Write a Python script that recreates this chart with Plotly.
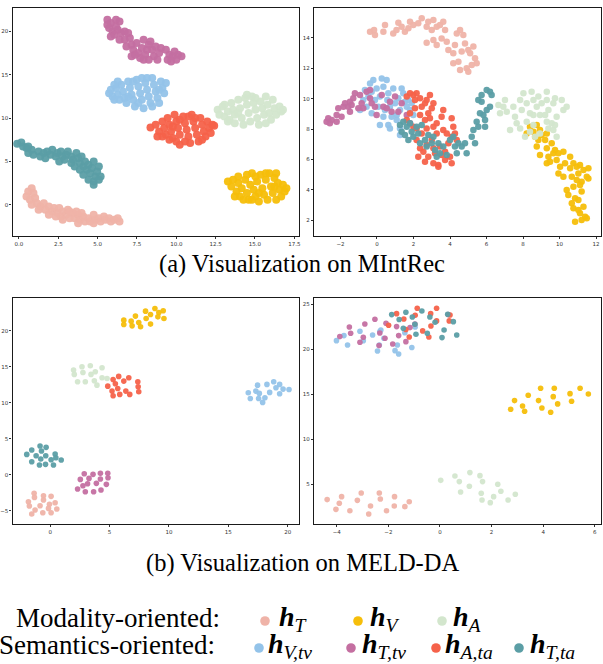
import plotly.graph_objects as go

# ---------------- series meta ----------------
series_keys = ["T", "V", "A", "Vtv", "Ttv", "Ata", "Tta"]
series_colors = {
    "T": "#EFB3A8", "V": "#F6BE0A", "A": "#D3E6CD", "Vtv": "#93C3E9",
    "Ttv": "#C46FA1", "Ata": "#F5624A", "Tta": "#5B9EA5",
}
series_labels = {
    "T": "<b><i>h</i></b><sub><i>T</i></sub>",
    "V": "<b><i>h</i></b><sub><i>V</i></sub>",
    "A": "<b><i>h</i></b><sub><i>A</i></sub>",
    "Vtv": "<b><i>h</i></b><sub><i>V,tv</i></sub>",
    "Ttv": "<b><i>h</i></b><sub><i>T,tv</i></sub>",
    "Ata": "<b><i>h</i></b><sub><i>A,ta</i></sub>",
    "Tta": "<b><i>h</i></b><sub><i>T,ta</i></sub>",
}

# ---------------- (a) MIntRec, left panel ----------------
mintrec_left_T = [(0.59,1.54),(0.81,1.92),(0.92,1.35),(0.48,0.96),(0.70,0.58),(1.03,0.77),(1.14,0.19),(0.81,0.00),(1.36,-0.19),(1.58,0.19),(1.68,-0.58),(1.90,-0.19),(2.12,-0.77),(2.23,-0.38),(2.45,-0.96),(2.56,-0.38),(2.67,-1.35),(2.78,-0.77),(3.00,-1.15),(3.11,-0.58),(3.22,-1.54),(3.44,-0.96),(3.54,-1.54),(3.76,-1.15),(3.87,-1.73),(4.09,-1.35),(4.20,-1.92),(4.42,-1.54),(4.53,-1.92),(4.75,-1.15),(4.86,-1.73),(5.08,-1.54),(5.19,-1.92),(5.40,-1.35),(5.51,-1.73),(5.73,-1.54),(5.84,-1.92),(6.06,-1.73),(6.28,-1.54),(6.39,-1.92),(3.22,-0.77),(3.65,-0.77),(3.98,-0.96),(1.25,-0.58),(2.34,-1.35),(2.78,-1.73),(1.90,-1.15),(4.75,-2.12),(3.76,-2.12)]
mintrec_left_V = [(13.28,2.69),(13.50,2.12),(13.61,2.88),(13.83,1.54),(13.94,2.50),(14.05,0.96),(14.16,1.92),(14.38,2.88),(14.49,1.35),(14.60,0.58),(14.70,2.31),(14.81,3.65),(14.92,1.73),(15.03,0.96),(15.14,2.69),(15.25,0.38),(15.36,3.46),(15.47,1.92),(15.58,1.15),(15.69,2.88),(15.80,0.58),(15.91,3.65),(16.02,2.12),(16.13,1.35),(16.24,3.08),(16.35,0.58),(16.46,2.50),(16.56,1.73),(16.67,0.96),(16.78,2.31),(16.89,1.54),(17.00,1.92),(13.94,3.27),(14.27,0.58),(13.72,0.96),(15.25,1.35),(14.81,0.58),(15.69,3.65),(16.35,3.65),(16.24,2.12),(15.03,3.27),(14.49,3.46)]
mintrec_left_A = [(12.63,10.96),(12.74,10.38),(12.95,11.35),(13.06,10.19),(13.28,10.77),(13.39,9.81),(13.50,11.73),(13.61,10.96),(13.72,10.38),(13.94,12.12),(14.05,11.15),(14.16,10.00),(14.38,12.31),(14.49,11.54),(14.60,10.58),(14.70,9.62),(14.81,12.50),(14.92,11.73),(15.03,10.96),(15.14,10.00),(15.25,9.23),(15.36,11.92),(15.47,11.15),(15.58,10.38),(15.69,12.50),(15.80,11.54),(15.91,10.58),(16.02,9.81),(16.13,12.12),(16.24,11.15),(16.35,10.38),(16.56,11.35),(16.67,10.77),(14.27,9.23),(13.72,9.42),(13.28,9.62),(15.69,9.42),(15.03,12.31),(14.49,12.69),(13.94,10.58),(16.78,10.96),(13.06,11.54)]
mintrec_left_Vtv = [(5.73,12.88),(5.95,12.50),(5.84,13.27),(6.17,13.46),(6.28,12.69),(6.06,12.12),(6.39,12.12),(6.50,13.85),(6.61,13.08),(6.72,12.31),(6.83,11.73),(6.94,14.23),(7.05,13.46),(7.16,12.69),(7.26,12.12),(7.37,11.35),(7.48,14.42),(7.59,13.65),(7.70,12.88),(7.81,12.12),(7.92,11.15),(8.03,14.04),(8.14,13.27),(8.25,12.50),(8.36,11.73),(8.47,14.62),(8.58,13.85),(8.69,13.08),(8.80,12.31),(8.91,11.73),(9.02,14.23),(9.12,13.46),(9.23,12.88),(9.34,14.04),(7.81,14.62),(7.26,14.23),(8.14,14.62),(8.47,11.35),(6.94,12.50),(6.28,14.23),(7.59,11.73),(8.91,13.27),(6.06,13.85)]
mintrec_left_Ttv = [(5.62,21.35),(5.84,20.96),(6.17,21.35),(6.39,21.15),(5.73,20.38),(5.95,20.00),(6.28,20.19),(6.06,19.62),(6.50,19.81),(6.72,19.04),(6.39,19.04),(6.83,18.27),(7.05,19.23),(7.16,18.46),(7.26,17.88),(7.48,18.65),(7.59,17.50),(7.81,18.08),(7.92,19.04),(8.03,17.31),(8.25,18.46),(8.14,17.88),(8.36,18.85),(8.47,17.88),(8.58,17.12),(8.69,18.27),(8.80,16.73),(8.91,17.50),(8.25,16.73),(7.70,16.92),(7.37,17.31),(7.16,17.12),(9.34,17.88),(9.45,16.73),(9.56,17.31),(9.78,17.12),(9.89,17.69),(10.11,17.31),(10.33,17.12),(10.00,16.73),(9.67,16.54),(6.94,19.81),(5.84,19.42),(5.62,20.77),(6.17,20.58),(7.92,16.73),(9.02,18.08),(6.72,20.00)]
mintrec_left_Ata = [(8.36,8.92),(8.69,9.23),(8.91,8.46),(9.12,9.62),(9.23,8.85),(9.34,8.08),(9.45,10.00),(9.56,9.23),(9.67,8.46),(9.78,7.69),(9.89,10.38),(10.00,9.62),(10.11,8.85),(10.22,8.08),(10.22,6.92),(10.44,10.19),(10.55,9.42),(10.66,8.65),(10.77,7.88),(10.88,7.12),(10.98,10.38),(11.09,9.62),(11.20,8.85),(11.31,8.08),(11.42,7.31),(11.53,10.00),(11.64,9.23),(11.75,8.46),(11.86,7.88),(11.97,9.62),(12.08,8.85),(12.19,8.27),(12.30,9.23),(12.41,9.12),(9.56,7.50),(10.00,7.31),(10.55,7.31),(9.12,7.88),(8.80,7.88),(11.20,10.00),(10.77,10.19),(11.64,7.50),(10.22,9.81),(9.78,9.04)]
mintrec_left_Tta = [(-0.11,7.04),(0.15,7.19),(0.26,6.73),(0.48,6.54),(0.59,5.96),(0.81,6.35),(0.92,5.77),(1.25,6.15),(1.36,5.58),(1.58,5.96),(1.79,6.15),(2.01,5.77),(2.12,6.35),(2.34,5.58),(2.45,5.96),(2.67,6.15),(2.78,5.58),(3.00,5.77),(3.11,6.15),(3.33,5.58),(3.44,5.19),(3.65,5.96),(3.76,5.38),(3.87,4.81),(3.98,5.58),(4.09,4.42),(4.20,5.00),(4.31,4.04),(4.42,4.62),(4.53,3.65),(4.64,4.23),(4.75,5.00),(4.86,3.27),(4.97,3.85),(5.08,4.42),(5.19,3.27),(4.75,2.69),(4.42,2.88),(4.09,3.46),(4.75,2.31),(5.08,2.88),(3.87,4.04),(3.33,4.81),(3.54,4.42),(0.59,6.73),(2.89,5.19),(1.68,5.38),(2.56,5.00)]

# ---------------- (a) MIntRec, right panel ----------------
mintrec_right_T = [(-0.38,14.41),(-0.11,14.19),(-0.16,14.52),(0.35,14.41),(0.44,14.85),(0.89,14.30),(1.07,14.52),(1.17,15.00),(1.35,14.74),(1.53,14.41),(1.72,14.63),(1.81,15.07),(1.99,14.85),(2.26,14.96),(2.45,15.29),(2.72,14.74),(2.81,15.07),(3.00,14.52),(3.09,15.18),(3.27,14.74),(3.45,14.85),(3.63,15.07),(3.73,14.52),(2.72,13.69),(3.09,13.86),(3.27,13.54),(3.54,13.97),(3.82,13.75),(3.91,13.21),(4.18,12.99),(4.27,13.54),(4.37,14.30),(4.55,14.52),(4.73,14.19),(4.64,13.10),(4.82,13.64),(5.00,13.21),(5.10,12.99),(5.28,13.43),(5.37,12.66),(5.46,12.33),(5.19,12.22),(4.91,12.00),(5.00,11.78),(4.55,11.89),(4.18,12.33),(4.46,12.44)]
mintrec_right_V = [(8.20,7.72),(8.38,8.16),(8.57,7.83),(8.75,8.27),(8.93,7.94),(8.66,7.50),(9.02,7.61),(9.30,7.72),(8.84,7.29),(9.21,7.29),(8.75,6.85),(9.30,6.74),(9.57,7.07),(9.75,6.63),(8.93,6.30),(9.39,6.19),(9.66,6.41),(9.94,6.41),(10.21,6.52),(9.30,5.75),(9.48,5.86),(9.84,5.97),(10.03,5.53),(10.58,6.19),(10.30,5.75),(9.94,5.09),(10.21,4.87),(10.58,5.42),(10.76,5.75),(10.94,5.53),(11.12,5.64),(10.67,4.87),(11.03,5.09),(11.31,5.31),(11.58,5.42),(10.94,4.65),(11.21,4.54),(11.49,4.87),(10.39,4.00),(10.76,4.21),(11.12,4.32),(11.58,4.76),(10.48,3.67),(10.85,3.45),(11.21,3.89),(10.67,3.12),(11.03,3.34),(11.31,2.90),(10.76,2.79),(11.12,2.46),(11.40,2.24),(11.21,2.02),(10.85,1.91),(11.49,2.13),(11.03,2.68)]
mintrec_right_A = [(6.65,9.59),(7.01,9.92),(7.11,9.15),(7.47,9.48),(7.56,8.82),(7.84,9.92),(7.93,9.26),(8.02,10.36),(8.20,9.70),(8.38,9.04),(8.47,10.46),(8.57,9.92),(8.75,9.48),(8.84,10.14),(8.93,8.93),(9.02,9.70),(9.30,10.46),(9.30,9.92),(9.39,9.26),(9.66,9.70),(9.75,10.03),(9.84,8.82),(10.12,9.92),(10.21,9.26),(10.39,9.48),(7.65,8.38),(7.84,8.05),(8.20,8.49),(8.38,7.83),(8.57,8.27),(8.66,7.50),(8.93,7.72),(9.30,8.49),(9.39,8.05),(9.57,8.38),(9.66,7.94),(9.84,7.50),(9.75,8.27),(7.29,7.94),(8.11,7.50),(8.57,8.93),(9.21,8.93),(6.74,9.04),(6.92,9.48)]
mintrec_right_Vtv = [(-0.93,9.26),(-0.75,9.92),(-0.57,9.48),(-0.47,10.14),(-0.38,11.01),(-0.29,10.46),(-0.20,11.23),(-0.11,9.92),(-0.02,10.68),(0.07,9.48),(0.16,10.14),(0.26,11.34),(0.35,10.79),(0.44,9.26),(0.53,11.23),(0.57,9.92),(0.62,10.36),(0.71,9.48),(0.80,8.82),(0.16,8.27),(0.62,8.27),(0.89,10.68),(0.99,9.70),(1.08,8.93),(1.17,10.03),(1.26,9.26),(1.35,10.68),(1.44,10.36),(1.53,9.81),(1.63,9.48),(1.26,8.05),(0.71,8.05),(1.72,9.92),(1.81,9.26),(1.26,7.61),(-0.29,9.04),(-0.66,10.57),(0.35,8.82),(1.08,8.60),(1.90,9.70),(1.99,8.93)]
mintrec_right_Ttv = [(-2.76,8.49),(-2.67,8.71),(-2.58,8.38),(-2.48,8.60),(-2.21,8.49),(-2.21,8.93),(-2.12,9.37),(-1.94,8.82),(-1.84,9.48),(-1.75,9.70),(-1.57,9.48),(-1.48,9.15),(-1.48,9.81),(-1.30,10.03),(-1.21,10.36),(-1.39,9.59),(-0.93,10.25),(-0.84,9.70),(-0.75,9.37),(-0.57,10.46),(-0.38,10.57),(-0.29,9.70),(-0.11,9.48),(-0.02,8.93),(0.26,10.25),(0.35,9.48),(0.53,9.37),(0.71,9.81),(0.80,9.15),(0.99,10.14),(1.17,9.15),(1.35,9.70),(1.63,8.93),(1.81,8.38),(-1.02,9.37),(-0.38,10.03)]
mintrec_right_Ata = [(1.63,10.14),(1.81,10.36),(1.99,10.25),(2.17,10.36),(2.08,9.92),(2.36,10.03),(2.45,9.48),(2.63,9.70),(2.72,9.92),(2.90,10.25),(3.00,9.37),(2.81,9.04),(3.09,9.70),(2.08,9.37),(2.36,8.93),(2.63,8.60),(2.90,8.71),(3.09,8.16),(3.27,8.38),(2.72,8.05),(2.45,7.72),(2.17,7.29),(3.00,7.29),(3.27,7.72),(3.63,7.94),(3.54,8.82),(3.45,6.85),(3.09,6.74),(2.72,6.96),(2.54,6.52),(2.36,6.74),(2.26,6.19),(2.81,6.19),(3.18,6.41),(3.54,6.30),(3.73,6.52),(3.91,7.07),(4.09,7.50),(4.27,7.72),(4.18,8.16),(3.82,7.72),(2.63,5.86),(3.09,5.75),(3.36,5.64),(3.73,5.97),(4.00,6.19),(3.36,5.53),(4.09,5.75),(1.81,9.04),(1.99,8.16),(1.63,8.60),(2.17,8.05),(4.37,7.29),(4.09,8.71),(3.63,9.26)]
mintrec_right_Tta = [(1.26,8.27),(1.35,7.83),(1.44,8.49),(1.63,8.16),(1.53,7.61),(1.72,7.29),(1.81,8.38),(1.90,7.83),(1.99,7.50),(2.17,8.16),(2.26,7.72),(2.36,7.07),(2.45,8.27),(2.63,7.29),(2.72,6.85),(2.81,7.61),(3.00,7.07),(3.09,7.50),(3.18,6.63),(3.27,6.19),(3.36,7.07),(3.45,6.41),(3.63,6.85),(3.82,6.30),(4.00,7.29),(4.18,7.50),(4.27,6.85),(4.37,6.41),(4.46,7.07),(4.64,6.85),(4.82,7.07),(4.91,6.41),(5.19,7.50),(5.37,7.07),(5.28,7.94),(5.46,8.49),(5.55,8.16),(5.64,9.04),(5.83,8.93),(5.92,8.16),(5.73,9.81),(6.01,9.26),(6.19,9.48),(5.73,10.25),(6.01,10.57),(6.19,10.46),(6.28,10.25),(5.92,8.60),(5.55,9.92)]

# ---------------- (b) MELD-DA, left panel ----------------
meld_left_T = [(-1.35,-2.59),(-0.56,-2.92),(0.08,-3.01),(-1.83,-3.75),(-0.56,-3.52),(-1.32,-3.15),(0.42,-3.89),(-1.75,-4.35),(-0.85,-4.31),(-0.06,-4.12),(-0.14,-4.68),(0.56,-4.77),(-1.27,-4.91),(-0.62,-5.28),(-1.55,-5.46),(0.08,-5.28)]
meld_left_V = [(6.20,21.48),(6.20,20.88),(6.82,21.34),(6.90,20.69),(7.18,22.04),(7.46,21.16),(7.61,20.56),(8.03,22.73),(8.08,21.71),(8.45,22.27),(8.45,20.93),(8.82,23.10),(9.15,22.55),(9.07,21.94),(9.52,22.78),(9.58,21.71)]
meld_left_A = [(1.97,14.54),(2.03,13.94),(2.31,12.92),(2.68,15.00),(2.76,14.21),(2.96,12.92),(3.38,15.14),(3.44,13.94),(3.80,14.31),(3.72,13.06),(3.94,12.45),(4.37,14.86),(4.37,13.47),(4.79,13.38)]
meld_left_Vtv = [(16.68,11.39),(16.85,10.60),(17.32,11.62),(17.46,12.45),(17.61,11.30),(17.55,10.60),(17.89,10.05),(18.08,10.69),(18.25,12.55),(18.48,11.44),(18.82,12.92),(19.01,12.08),(19.32,12.55),(19.32,11.25),(19.61,11.90),(20.11,11.85)]
meld_left_Ttv = [(2.31,-1.99),(2.54,-0.65),(2.76,-1.53),(2.87,0.14),(3.15,-1.25),(3.27,-0.51),(3.61,0.05),(3.66,-2.36),(3.89,-1.20),(4.23,0.19),(4.28,-2.13),(4.23,-0.60),(4.73,-1.34),(4.85,0.19),(4.87,-0.42),(2.96,-2.36)]
meld_left_Ata = [(4.85,12.31),(5.30,13.24),(5.49,12.64),(5.77,13.66),(5.69,11.99),(5.21,11.62),(5.30,10.97),(5.86,11.16),(6.20,13.01),(6.37,11.62),(6.62,13.47),(6.70,11.16),(7.38,12.92),(7.41,12.22),(7.46,11.53)]
meld_left_Tta = [(-1.97,2.82),(-1.55,3.43),(-1.55,1.81),(-1.18,2.64),(-0.85,3.98),(-0.90,1.34),(-0.79,2.18),(-0.73,3.29),(-0.39,1.44),(-0.34,3.80),(-0.37,2.64),(0.08,2.08),(0.28,1.34),(0.42,2.87),(0.48,2.36),(0.93,2.04)]

# ---------------- (b) MELD-DA, right panel ----------------
meld_right_T = [(-4.37,3.30),(-4.03,2.22),(-3.90,2.89),(-3.81,3.63),(-3.49,2.07),(-3.20,3.22),(-3.05,4.04),(-2.76,1.70),(-2.69,2.59),(-2.35,4.04),(-2.31,3.37),(-2.07,2.07),(-1.77,2.59),(-1.76,3.63),(-1.36,2.52),(-1.19,3.07)]
meld_right_V = [(2.74,13.33),(2.89,14.30),(3.20,13.70),(3.28,13.11),(3.42,14.89),(3.82,14.30),(3.95,13.48),(3.90,15.67),(4.29,13.00),(4.39,14.74),(4.43,15.67),(4.56,13.93),(5.04,15.07),(5.10,14.22),(5.43,15.67),(5.75,15.04)]
meld_right_A = [(0.03,5.44),(0.58,5.93),(0.75,5.30),(1.16,6.30),(1.14,4.78),(0.80,4.15),(1.55,5.96),(1.65,5.30),(1.60,4.00),(2.24,5.00),(2.36,4.22),(2.08,3.63),(1.63,3.26),(1.95,2.96),(2.64,3.26),(2.92,3.89)]
meld_right_Vtv = [(-4.01,20.96),(-3.72,21.52),(-3.58,20.48),(-3.10,22.00),(-2.97,20.96),(-2.61,21.59),(-2.29,22.15),(-2.35,20.48),(-2.42,19.81),(-2.17,21.22),(-1.74,19.85),(-1.65,20.48),(-1.60,19.48),(-1.36,21.85),(-1.09,20.19),(-0.96,22.48),(-2.33,21.96)]
meld_right_Ttv = [(-3.88,21.41),(-3.51,22.48),(-3.46,21.78),(-3.10,20.78),(-2.97,21.33),(-2.91,22.81),(-2.52,23.33),(-2.36,20.41),(-2.33,21.81),(-2.13,21.22),(-2.09,22.89),(-1.83,20.59),(-1.68,22.52),(-1.60,21.52),(-1.32,20.85),(-1.16,22.41),(-0.97,22.81),(0.32,23.85)]
meld_right_Ata = [(-1.99,22.67),(-1.68,23.96),(-1.40,23.37),(-1.32,22.19),(-1.19,21.37),(-0.96,23.78),(-0.88,24.56),(-0.67,22.04),(-0.43,21.37),(-0.36,23.96),(-0.35,22.59),(-0.13,24.56),(-0.13,23.15),(0.36,23.15),(0.39,23.81)]
meld_right_Tta = [(-1.87,23.85),(-1.58,23.30),(-1.42,22.33),(-1.32,24.11),(-1.07,23.59),(-0.97,22.78),(-0.93,21.67),(-0.70,24.26),(-0.49,21.78),(-0.39,23.59),(-0.19,23.00),(0.08,21.30),(0.16,22.15),(0.30,23.89),(0.52,23.07),(0.65,21.59)]

panels = [
    {"data": {"T": mintrec_left_T, "V": mintrec_left_V, "A": mintrec_left_A, "Vtv": mintrec_left_Vtv,
              "Ttv": mintrec_left_Ttv, "Ata": mintrec_left_Ata, "Tta": mintrec_left_Tta},
     "xaxis": "x", "yaxis": "y", "size": 8},
    {"data": {"T": mintrec_right_T, "V": mintrec_right_V, "A": mintrec_right_A, "Vtv": mintrec_right_Vtv,
              "Ttv": mintrec_right_Ttv, "Ata": mintrec_right_Ata, "Tta": mintrec_right_Tta},
     "xaxis": "x2", "yaxis": "y2", "size": 6.5},
    {"data": {"T": meld_left_T, "V": meld_left_V, "A": meld_left_A, "Vtv": meld_left_Vtv,
              "Ttv": meld_left_Ttv, "Ata": meld_left_Ata, "Tta": meld_left_Tta},
     "xaxis": "x3", "yaxis": "y3", "size": 5.6},
    {"data": {"T": meld_right_T, "V": meld_right_V, "A": meld_right_A, "Vtv": meld_right_Vtv,
              "Ttv": meld_right_Ttv, "Ata": meld_right_Ata, "Tta": meld_right_Tta},
     "xaxis": "x4", "yaxis": "y4", "size": 5.6},
]

fig = go.Figure()
for p in panels:
    for k in series_keys:
        pts = p["data"][k]
        fig.add_trace(go.Scatter(
            x=[q[0] for q in pts], y=[q[1] for q in pts], mode="markers",
            xaxis=p["xaxis"], yaxis=p["yaxis"], showlegend=False, hoverinfo="skip",
            marker=dict(color=series_colors[k], size=p["size"], opacity=0.95, line=dict(width=0)),
        ))

W, H = 603, 664
def px(x): return x / W
def py(y): return 1 - y / H

axis_common = dict(showline=True, linecolor="#1a1a1a", linewidth=1.3, mirror=True, automargin=False,
                   showgrid=False, zeroline=False, ticks="outside", ticklen=2, tickwidth=0.8,
                   tickcolor="#333", tickfont=dict(size=5.5, color="#333", family="DejaVu Sans"))

fig.update_layout(
    template="none",
    width=W, height=H, margin=dict(l=0, r=0, t=0, b=0, pad=0, autoexpand=False),
    paper_bgcolor="white", plot_bgcolor="white", showlegend=False,
    xaxis=dict(axis_common, domain=[px(12.5), px(299)], range=[-0.41, 17.8],
               tickvals=[0, 2.5, 5, 7.5, 10, 12.5, 15, 17.5], tickformat=".1f", anchor="y"),
    yaxis=dict(axis_common, domain=[py(236), py(8)], range=[-3.6, 22.7],
               tickvals=[0, 5, 10, 15, 20], anchor="x"),
    xaxis2=dict(axis_common, domain=[px(314), px(601)], range=[-3.45, 12.27],
                tickvals=[-2, 0, 2, 4, 6, 8, 10, 12], anchor="y2"),
    yaxis2=dict(axis_common, domain=[py(236), py(8)], range=[0.97, 15.97],
                tickvals=[2, 4, 6, 8, 10, 12, 14], anchor="x2"),
    xaxis3=dict(axis_common, domain=[px(12.5), px(299)], range=[-3.17, 20.95],
                tickvals=[0, 5, 10, 15, 20], anchor="y3"),
    yaxis3=dict(axis_common, domain=[py(524), py(297.7)], range=[-6.85, 24.6],
                tickvals=[-5, 0, 5, 10, 15, 20], anchor="x3"),
    xaxis4=dict(axis_common, domain=[px(314), px(601)], range=[-4.88, 6.24],
                tickvals=[-4, -2, 0, 2, 4, 6], anchor="y4"),
    yaxis4=dict(axis_common, domain=[py(524), py(297.7)], range=[0.59, 25.73],
                tickvals=[5, 10, 15, 20, 25], anchor="x4"),
)

serif = "Liberation Serif"
annotations = [
    dict(text="(a) Visualization on MIntRec", x=px(302), y=py(264), xref="paper", yref="paper",
         xanchor="center", yanchor="middle", showarrow=False, font=dict(family=serif, size=24.5, color="black")),
    dict(text="(b) Visualization on MELD-DA", x=px(302), y=py(563), xref="paper", yref="paper",
         xanchor="center", yanchor="middle", showarrow=False, font=dict(family=serif, size=24.5, color="black")),
    dict(text="Modality-oriented:", x=px(222), y=py(618), xref="paper", yref="paper",
         xanchor="right", yanchor="middle", showarrow=False, font=dict(family=serif, size=27, color="black")),
    dict(text="Semantics-oriented:", x=px(217), y=py(645), xref="paper", yref="paper",
         xanchor="right", yanchor="middle", showarrow=False, font=dict(family=serif, size=27, color="black")),
]
legend_rows = [
    (["T", "V", "A"], [265, 358, 442], [277, 368, 451], 618),
    (["Vtv", "Ttv", "Ata", "Tta"], [259, 351, 436, 519], [266, 360, 443, 528], 645),
]
shapes = []
for keys, dots, labs, ycen in legend_rows:
    for k, dx, lx in zip(keys, dots, labs):
        r = 4.8
        shapes.append(dict(type="circle", xref="paper", yref="paper",
                           x0=px(dx - r), x1=px(dx + r), y0=py(ycen + 3 + r), y1=py(ycen + 3 - r),
                           fillcolor=series_colors[k], line=dict(width=0)))
        annotations.append(dict(text=series_labels[k], x=px(lx), y=py(ycen), xref="paper", yref="paper",
                                xanchor="left", yanchor="middle", showarrow=False,
                                font=dict(family=serif, size=28, color="black")))
fig.update_layout(annotations=annotations, shapes=shapes)

fig.write_html("out.html", config={"displayModeBar": False},
               post_script="document.body.style.margin='0';document.body.style.overflow='hidden';")
